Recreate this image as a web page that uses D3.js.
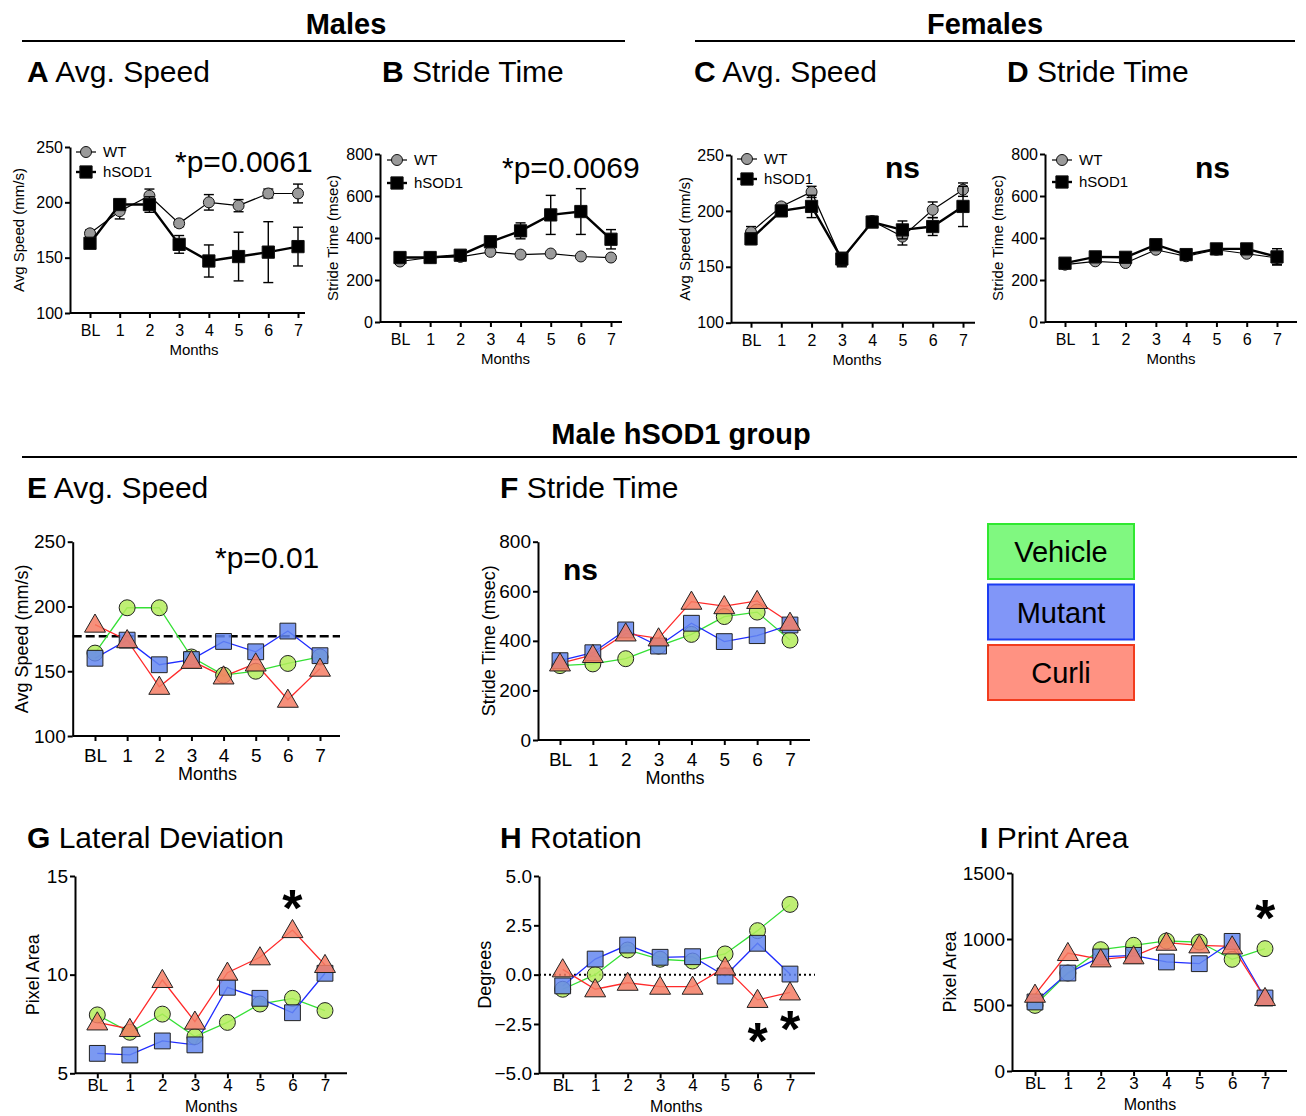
<!DOCTYPE html>
<html>
<head>
<meta charset="utf-8">
<script src="https://cdn.jsdelivr.net/npm/d3@7"></script>
<style>
  body { margin: 0; background: #fff; }
  svg { font-family: "Liberation Sans", Arial, sans-serif; }
</style>
</head>
<body>
<svg id="fig" width="1306" height="1116"></svg>
<script>
const months = ['BL', '1', '2', '3', '4', '5', '6', '7']

// A - males, avg speed (mm/s), mean and SEM
const mSpeedWT = [172, 192, 206, 181, 200, 197, 208, 208]
const mSpeedWTErr = [3, 7, 6, 3, 7, 5.5, 4, 8.5]
const mSpeedSOD = [163, 198, 198, 162, 147, 151, 155, 160]
const mSpeedSODErr = [3, 3, 7, 8, 14.5, 22, 27.5, 17.5]

// B - males, stride time (msec)
const mStrideWT = [288, 307, 310, 334, 321, 326, 312, 307]
const mStrideWTErr = [8, 8, 8, 10, 8, 8, 8, 8]
const mStrideSOD = [307, 307, 318, 382, 434, 510, 526, 394]
const mStrideSODErr = [10, 10, 10, 12, 38, 93, 109, 46]

// C - females, avg speed
const fSpeedWT = [181, 204, 217, 156, 191, 177, 201, 219]
const fSpeedWTErr = [5, 3, 5, 6, 4, 7.5, 7, 6]
const fSpeedSOD = [175, 200, 204, 157, 190, 183, 186, 204]
const fSpeedSODErr = [5, 3, 10, 6, 4, 8, 8, 18]

// D - females, stride time
const fStrideWT = [273, 289, 281, 344, 313, 344, 325, 305]
const fStrideWTErr = [8, 8, 8, 10, 8, 15, 10, 30]
const fStrideSOD = [280, 310, 308, 368, 321, 348, 348, 310]
const fStrideSODErr = [10, 10, 10, 12, 10, 15, 10, 39]

// male hSOD1 group, treatment groups
const groups = ['Vehicle', 'Mutant', 'Curli']

const speedVeh = [164, 199, 199, 161, 147, 150, 156, 161]
const speedMut = [160, 174, 155, 159, 173, 165, 181, 162]
const speedCur = [186, 174, 138, 158, 146, 156, 128, 152]
const speedRef = 177

const strideVeh = [300, 307, 328, 379, 426, 498, 516, 403]
const strideMut = [320, 352, 444, 379, 471, 397, 421, 464]
const strideCur = [309, 343, 430, 410, 558, 540, 561, 473]

const latVeh = [7.96, 7.08, 8.0, 6.86, 7.58, 8.51, 8.8, 8.18]
const latMut = [6.01, 5.93, 6.64, 6.44, 9.36, 8.8, 8.07, 10.07]
const latCur = [7.58, 7.25, 9.73, 7.62, 10.1, 10.88, 12.26, 10.49]

const rotVeh = [-0.74, 0, 1.25, 0.78, 0.69, 1.05, 2.23, 3.56]
const rotMut = [-0.57, 0.79, 1.5, 0.88, 0.91, -0.07, 1.59, 0.03]
const rotCur = [0.27, -0.74, -0.41, -0.61, -0.61, 0.37, -1.28, -0.9]

const printVeh = [497, 742, 919, 952, 985, 977, 846, 927]
const printMut = [523, 742, 864, 876, 826, 813, 982, 553]
const printCur = [578, 894, 846, 869, 972, 952, 944, 553]

// significance stars (month, value)
const starsG = [['6', 13.7]]
const starsH = [['6', -3.05], ['7', -2.45]]
const starsI = [['7', 1205]]

const svg = d3.select('#fig')

const groupStyle = {
  Vehicle: { line: '#35e035', fill: '#b4ec5c', sym: d3.symbolCircle, size: 200, box: '#80f880', boxStroke: '#30e830' },
  Mutant: { line: '#1f2cff', fill: '#6487f0', sym: d3.symbolSquare, size: 250, box: '#8196f8', boxStroke: '#1c3cf2' },
  Curli: { line: '#ff2a2a', fill: '#f47c64', sym: d3.symbolTriangle, size: 190, box: '#ff9282', boxStroke: '#f23c1e' }
}

function header (text, x, y, x1, x2, ly) {
  svg.append('text')
    .attr('x', x).attr('y', y)
    .attr('text-anchor', 'middle')
    .attr('font-size', 29).attr('font-weight', 'bold')
    .text(text)
  svg.append('line')
    .attr('x1', x1).attr('x2', x2).attr('y1', ly).attr('y2', ly)
    .attr('stroke', '#000').attr('stroke-width', 2)
}

function panelTitle (letter, text, x, y) {
  const t = svg.append('text').attr('x', x).attr('y', y).attr('font-size', 30)
  t.append('tspan').attr('font-weight', 'bold').text(letter)
  t.append('tspan').text(' ' + text)
}

// axes frame, returns scales
function axes (cfg) {
  const g = svg.append('g')
  const x = d3.scalePoint().domain(months).range(cfg.xr)
  const y = d3.scaleLinear().domain(cfg.dom).range(cfg.yr)

  const yAx = d3.axisLeft(y).tickValues(cfg.ticks).tickSize(5).tickSizeOuter(0).tickPadding(2)
    .tickFormat(d3.format(cfg.fmt || 'd'))
  g.append('g')
    .attr('transform', `translate(${cfg.x0},0)`)
    .call(yAx)
    .attr('font-size', cfg.fs).attr('font-family', null)

  const gx = g.append('g')
    .attr('transform', `translate(0,${cfg.yr[0]})`)
    .call(d3.axisBottom(x).tickSize(5).tickPadding(cfg.pad))
    .attr('font-size', cfg.xfs || cfg.fs).attr('font-family', null)
  gx.select('.domain').remove()
  gx.append('line')
    .attr('x1', cfg.x0).attr('x2', cfg.x1)
    .attr('stroke', '#000')

  g.selectAll('.domain, line').attr('stroke', '#000').attr('stroke-width', 2)
  g.selectAll('.tick text').attr('fill', '#000')

  g.append('text')
    .attr('x', (cfg.xr[0] + cfg.xr[1]) / 2)
    .attr('y', cfg.yr[0] + cfg.my)
    .attr('text-anchor', 'middle')
    .attr('font-size', cfg.mfs || cfg.lfs)
    .text('Months')

  g.append('text')
    .attr('transform', `translate(${cfg.lx},${(cfg.yr[0] + cfg.yr[1]) / 2}) rotate(-90)`)
    .attr('text-anchor', 'middle')
    .attr('dy', '0.35em')
    .attr('font-size', cfg.lfs)
    .text(cfg.ylabel)

  return { x, y }
}

// top row: WT vs hSOD1 with error bars
function sexPanel (cfg, wt, wtErr, sod, sodErr) {
  const { x, y } = axes(cfg)
  const series = [
    { name: 'WT', v: wt, e: wtErr, sym: d3.symbolCircle, size: 95, fill: '#9a9a9a', lw: 1.2 },
    { name: 'hSOD1', v: sod, e: sodErr, sym: d3.symbolSquare, size: 150, fill: '#000', lw: 2.4 }
  ]
  const line = d3.line().x((d, i) => x(months[i])).y(d => y(d))

  series.forEach(s => {
    const g = svg.append('g')
    g.append('path').attr('d', line(s.v))
      .attr('fill', 'none').attr('stroke', '#000').attr('stroke-width', s.lw)
    const eb = g.selectAll('.eb').data(s.v).enter().append('g')
    eb.append('line')
      .attr('x1', (d, i) => x(months[i])).attr('x2', (d, i) => x(months[i]))
      .attr('y1', (d, i) => y(d - s.e[i])).attr('y2', (d, i) => y(d + s.e[i]))
    eb.append('line')
      .attr('x1', (d, i) => x(months[i]) - 5).attr('x2', (d, i) => x(months[i]) + 5)
      .attr('y1', (d, i) => y(d + s.e[i])).attr('y2', (d, i) => y(d + s.e[i]))
    eb.append('line')
      .attr('x1', (d, i) => x(months[i]) - 5).attr('x2', (d, i) => x(months[i]) + 5)
      .attr('y1', (d, i) => y(d - s.e[i])).attr('y2', (d, i) => y(d - s.e[i]))
    eb.selectAll('line').attr('stroke', '#000').attr('stroke-width', 1.4)
    g.selectAll('.pt').data(s.v).enter().append('path')
      .attr('d', d3.symbol(s.sym, s.size))
      .attr('transform', (d, i) => `translate(${x(months[i])},${y(d)})`)
      .attr('fill', s.fill).attr('stroke', '#111').attr('stroke-width', 1)
  })

  // legend
  series.forEach((s, i) => {
    const ly = cfg.legY[i]
    svg.append('line')
      .attr('x1', cfg.legX - 10).attr('x2', cfg.legX + 10)
      .attr('y1', ly).attr('y2', ly)
      .attr('stroke', '#000').attr('stroke-width', s.lw)
    svg.append('path')
      .attr('d', d3.symbol(s.sym, s.size))
      .attr('transform', `translate(${cfg.legX},${ly})`)
      .attr('fill', s.fill).attr('stroke', '#111')
    svg.append('text')
      .attr('x', cfg.legX + 17).attr('y', ly).attr('dy', '0.35em')
      .attr('font-size', 15)
      .text(s.name)
  })

  svg.append('text')
    .attr('x', cfg.noteX).attr('y', cfg.noteY)
    .attr('font-size', 30)
    .attr('font-weight', cfg.note === 'ns' ? 'bold' : null)
    .text(cfg.note)
}

// bottom rows: three treatment groups
function groupPanel (cfg, vals, stars) {
  const { x, y } = axes(cfg)
  const line = d3.line().x((d, i) => x(months[i])).y(d => y(d))

  if (cfg.ref !== undefined) {
    svg.append('line')
      .attr('x1', cfg.x0).attr('x2', cfg.x1)
      .attr('y1', y(cfg.ref)).attr('y2', y(cfg.ref))
      .attr('stroke', '#000').attr('stroke-width', cfg.refW)
      .attr('stroke-dasharray', cfg.refDash)
  }

  groups.forEach((gname, k) => {
    svg.append('path').attr('d', line(vals[k]))
      .attr('fill', 'none').attr('stroke', groupStyle[gname].line).attr('stroke-width', 1.3)
  })
  groups.forEach((gname, k) => {
    const st = groupStyle[gname]
    svg.append('g').selectAll('path').data(vals[k]).enter().append('path')
      .attr('d', d3.symbol(st.sym, st.size))
      .attr('transform', (d, i) => `translate(${x(months[i])},${y(d) + (gname === 'Curli' ? 1.5 : 0)})`)
      .attr('fill', st.fill).attr('fill-opacity', 0.85)
      .attr('stroke', '#222').attr('stroke-width', 1)
  })

  svg.append('g').selectAll('text').data(stars || []).enter().append('text')
    .attr('x', d => x(d[0])).attr('y', d => y(d[1]) + 24)
    .attr('text-anchor', 'middle')
    .attr('font-size', 52).attr('font-weight', 'bold')
    .text('*')

  if (cfg.note) {
    svg.append('text')
      .attr('x', cfg.noteX).attr('y', cfg.noteY)
      .attr('font-size', 30)
      .attr('font-weight', cfg.note === 'ns' ? 'bold' : null)
      .text(cfg.note)
  }
}

// headers
header('Males', 346, 34, 22, 625, 41)
header('Females', 985, 34, 695, 1295, 41)
header('Male hSOD1 group', 681, 444, 22, 1297, 457)

panelTitle('A', 'Avg. Speed', 27, 82)
panelTitle('B', 'Stride Time', 382, 82)
panelTitle('C', 'Avg. Speed', 694, 82)
panelTitle('D', 'Stride Time', 1007, 82)
panelTitle('E', 'Avg. Speed', 27, 498)
panelTitle('F', 'Stride Time', 500, 498)
panelTitle('G', 'Lateral Deviation', 27, 848)
panelTitle('H', 'Rotation', 500, 848)
panelTitle('I', 'Print Area', 980, 848)

const topBase = { fs: 16, lfs: 15, pad: 7, my: 42 }

sexPanel(Object.assign({}, topBase, {
  x0: 70, x1: 305, xr: [90, 298], yr: [313, 147], dom: [100, 250], ticks: [100, 150, 200, 250],
  lx: 19, ylabel: 'Avg Speed (mm/s)', legX: 86, legY: [152, 172],
  note: '*p=0.0061', noteX: 175, noteY: 172
}), mSpeedWT, mSpeedWTErr, mSpeedSOD, mSpeedSODErr)

sexPanel(Object.assign({}, topBase, {
  x0: 380, x1: 622, xr: [400, 611], yr: [322, 154], dom: [0, 800], ticks: [0, 200, 400, 600, 800],
  lx: 333, ylabel: 'Stride Time (msec)', legX: 397, legY: [160, 183],
  note: '*p=0.0069', noteX: 502, noteY: 178
}), mStrideWT, mStrideWTErr, mStrideSOD, mStrideSODErr)

sexPanel(Object.assign({}, topBase, {
  x0: 731, x1: 975, xr: [751, 963], yr: [322.7, 155], dom: [100, 250], ticks: [100, 150, 200, 250],
  lx: 685, ylabel: 'Avg Speed (mm/s)', legX: 747, legY: [159, 179],
  note: 'ns', noteX: 885, noteY: 178
}), fSpeedWT, fSpeedWTErr, fSpeedSOD, fSpeedSODErr)

sexPanel(Object.assign({}, topBase, {
  x0: 1045, x1: 1297, xr: [1065, 1277], yr: [322, 154], dom: [0, 800], ticks: [0, 200, 400, 600, 800],
  lx: 998, ylabel: 'Stride Time (msec)', legX: 1062, legY: [160, 182],
  note: 'ns', noteX: 1195, noteY: 178
}), fStrideWT, fStrideWTErr, fStrideSOD, fStrideSODErr)

const botBase = { fs: 19, lfs: 18, pad: 8, my: 44 }
const lowBase = { fs: 19, xfs: 17, lfs: 18, mfs: 16, pad: 1, my: 39 }

groupPanel(Object.assign({}, botBase, {
  x0: 72.7, x1: 340, xr: [95, 320], yr: [736, 541.7], dom: [100, 250], ticks: [100, 150, 200, 250],
  lx: 22, ylabel: 'Avg Speed (mm/s)', ref: speedRef, refW: 2.5, refDash: '9,4',
  note: '*p=0.01', noteX: 215, noteY: 568
}), [speedVeh, speedMut, speedCur])

groupPanel(Object.assign({}, botBase, {
  x0: 538, x1: 810, xr: [560, 790], yr: [740, 541.7], dom: [0, 800], ticks: [0, 200, 400, 600, 800],
  lx: 489, ylabel: 'Stride Time (msec)',
  note: 'ns', noteX: 563, noteY: 580
}), [strideVeh, strideMut, strideCur])

groupPanel(Object.assign({}, lowBase, {
  x0: 75, x1: 347, xr: [97.3, 325], yr: [1073.3, 876], dom: [5, 15], ticks: [5, 10, 15],
  lx: 33, ylabel: 'Pixel Area'
}), [latVeh, latMut, latCur], starsG)

groupPanel(Object.assign({}, lowBase, {
  x0: 539, x1: 815, xr: [562.7, 790], yr: [1073.3, 876], dom: [-5, 5], ticks: [-5, -2.5, 0, 2.5, 5], fmt: '.1f',
  lx: 485, ylabel: 'Degrees', ref: 0, refW: 2, refDash: '2,3'
}), [rotVeh, rotMut, rotCur], starsH)

groupPanel(Object.assign({}, lowBase, {
  x0: 1012, x1: 1287, xr: [1035, 1265], yr: [1071, 873], dom: [0, 1500], ticks: [0, 500, 1000, 1500],
  lx: 950, ylabel: 'Pixel Area'
}), [printVeh, printMut, printCur], starsI)

// group legend boxes
const legend = svg.append('g').selectAll('g').data(groups).enter().append('g')
  .attr('transform', (d, i) => `translate(988,${524 + i * 60.5})`)
legend.append('rect')
  .attr('width', 146).attr('height', 55)
  .attr('fill', d => groupStyle[d].box)
  .attr('stroke', d => groupStyle[d].boxStroke).attr('stroke-width', 2)
legend.append('text')
  .attr('x', 73).attr('y', 28).attr('dy', '0.35em')
  .attr('text-anchor', 'middle')
  .attr('font-size', 29)
  .text(d => d)
</script>
</body>
</html>
